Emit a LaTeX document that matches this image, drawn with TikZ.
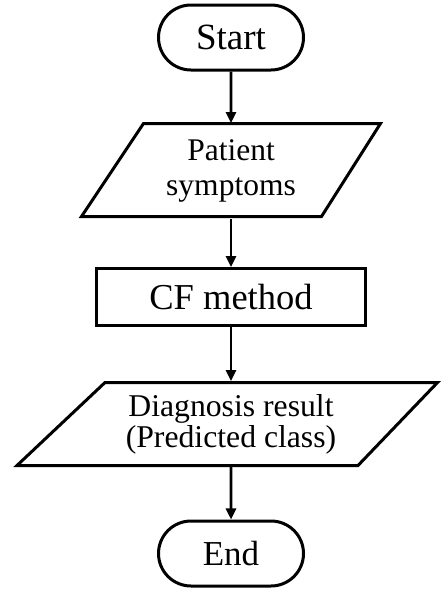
\documentclass[tikz,border=0pt]{standalone}
\usepackage{fontspec}
\setmainfont{Liberation Serif}
\usetikzlibrary{shapes.misc,arrows.meta}
\begin{document}
\begin{tikzpicture}[x=1pt,y=-1pt,
  line width=3pt,
  term/.style={draw,rounded rectangle,minimum width=145pt,minimum height=65pt,inner sep=0pt,font=\fontsize{37}{40}\selectfont},
  procbox/.style={draw,rectangle,minimum width=269pt,minimum height=57pt,inner sep=0pt,font=\fontsize{36.5}{40}\selectfont},
  iotext/.style={inner sep=0pt,align=center},
  flow/.style={-{Triangle[length=11pt,width=10pt]},line width=2.6pt}
]
\useasboundingbox (0,0) rectangle (442,592);
\node[term] (start) at (231,37.5) {Start};
% parallelogram 1
\draw (143.5,123.5) -- (380.5,123.5) -- (321.5,216.5) -- (81.5,216.5) -- cycle;
\node[iotext,minimum width=160pt,minimum height=93pt,font=\fontsize{31.5}{35}\selectfont] (p1) at (231,171) {Patient\\symptoms};
\node[procbox] (cf) at (231,297) {CF method};
% parallelogram 2
\draw (105,382.5) -- (437.5,382.5) -- (358,465.5) -- (17,465.5) -- cycle;
\node[iotext,minimum width=200pt,minimum height=83pt,font=\fontsize{31.7}{31}\selectfont] (p2) at (231,424) {Diagnosis result\\(Predicted class)};
\node[term,font=\fontsize{35}{40}\selectfont] (end) at (231,553.5) {End};
\draw[flow] (start) -- (p1.north);
\draw[flow] (p1.south) -- (cf);
\draw[flow] (cf) -- (p2.north);
\draw[flow] (p2.south) -- (end);
\end{tikzpicture}
\end{document}
